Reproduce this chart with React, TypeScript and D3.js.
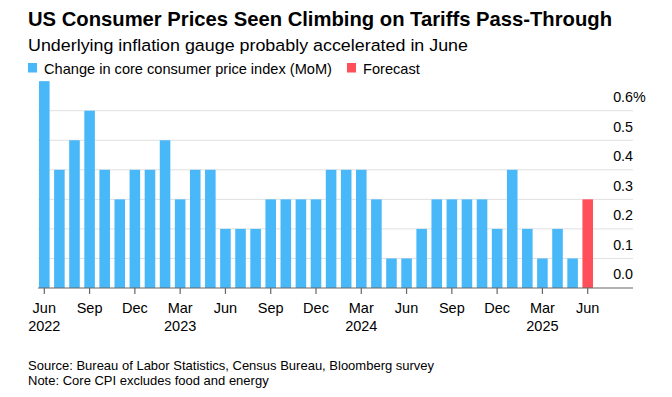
import * as d3 from "d3";

// monthly change in core CPI, Jun 2022 .. May 2025
const coreMoM = [
  0.7, 0.4, 0.5, 0.6, 0.4, 0.3, 0.4,
  0.4, 0.5, 0.3, 0.4, 0.4, 0.2, 0.2, 0.2, 0.3, 0.3, 0.3, 0.3,
  0.4, 0.4, 0.4, 0.3, 0.1, 0.1, 0.2, 0.3, 0.3, 0.3, 0.3, 0.2,
  0.4, 0.2, 0.1, 0.2, 0.1,
];
const forecastValue = 0.3; // Jun 2025
const yTicks = [0, 0.1, 0.2, 0.3, 0.4, 0.5, 0.6];
const legendItems = [
  { label: "Change in core consumer price index (MoM)", color: "#48b8f9" },
  { label: "Forecast", color: "#ff4f5b" },
];

const months = d3.timeMonth.range(new Date(2022, 5, 1), new Date(2025, 6, 1));
const bars = months.map((d, i) => ({
  date: d,
  value: i < coreMoM.length ? coreMoM[i] : forecastValue,
  forecast: i >= coreMoM.length,
}));

const width = 672;
const height = 397;
const font = "'Liberation Sans', Arial, Helvetica, sans-serif";

export default function App() {
  const x = d3
    .scalePoint<Date>()
    .domain(months)
    .range([44.3, 587.7]);
  const barW = x.step() * 0.7;
  const y = d3.scaleLinear().domain([0, 0.6]).range([288, 110.7]);

  const axisLeft = 38;
  const axisRight = 633;
  const tickMonths = months.filter((d) => (d.getMonth() - 5 + 12) % 3 === 0);
  const fmtMonth = d3.timeFormat("%b");

  return (
    <svg
      width={width}
      height={height}
      style={{ position: "absolute", left: 0, top: 0, fontFamily: font }}
    >
      <rect width={width} height={height} fill="#fff" />
      <text x={28} y={26} fontSize={20.2} fontWeight="bold" fill="#000" textLength={584} lengthAdjust="spacingAndGlyphs">
        US Consumer Prices Seen Climbing on Tariffs Pass-Through
      </text>
      <text x={28} y={51} fontSize={17.2} fill="#000" textLength={440} lengthAdjust="spacingAndGlyphs">
        Underlying inflation gauge probably accelerated in June
      </text>
      {legendItems.map((it, i) => {
        const lx = i === 0 ? 28 : 347;
        return (
          <g key={it.label}>
            <rect x={lx} y={63} width={9} height={9.5} fill={it.color} />
            <text x={lx + 16} y={73.5} fontSize={14.6} fill="#000">
              {it.label}
            </text>
          </g>
        );
      })}

      {yTicks.map((t) => (
        <g key={t}>
          {t > 0 && (
            <line
              x1={axisLeft}
              x2={axisRight}
              y1={y(t)}
              y2={y(t)}
              stroke="#e0e0e0"
              strokeWidth={1}
            />
          )}
          <text
            x={axisRight}
            y={y(t) - 8.7}
            fontSize={14.3}
            textAnchor="end"
            fill="#000"
          >
            {t.toFixed(1)}
          </text>
          {t === 0.6 && (
            <text x={axisRight} y={y(t) - 8.7} fontSize={14.3} fill="#000">
              %
            </text>
          )}
        </g>
      ))}

      {bars.map((b) => (
        <rect
          key={+b.date}
          x={(x(b.date) as number) - barW / 2}
          y={y(b.value)}
          width={barW}
          height={y(0) - y(b.value)}
          fill={b.forecast ? legendItems[1].color : legendItems[0].color}
        />
      ))}

      <line
        x1={axisLeft}
        x2={axisRight}
        y1={y(0)}
        y2={y(0)}
        stroke="#666"
        strokeWidth={1.2}
      />
      {tickMonths.map((d, i) => {
        const cx = x(d) as number;
        const showYear = i === 0 || d.getMonth() === 2;
        return (
          <g key={+d}>
            <line x1={cx} x2={cx} y1={y(0)} y2={y(0) + 6} stroke="#666" strokeWidth={1.2} />
            <text x={cx} y={312.5} fontSize={14.5} textAnchor="middle" fill="#000">
              {fmtMonth(d)}
            </text>
            {showYear && (
              <text x={cx} y={330.5} fontSize={14.5} textAnchor="middle" fill="#000">
                {d.getFullYear()}
              </text>
            )}
          </g>
        );
      })}

      <text x={28} y={370} fontSize={13} fill="#000">
        Source: Bureau of Labor Statistics, Census Bureau, Bloomberg survey
      </text>
      <text x={28} y={385} fontSize={13} fill="#000">
        Note: Core CPI excludes food and energy
      </text>
    </svg>
  );
}
